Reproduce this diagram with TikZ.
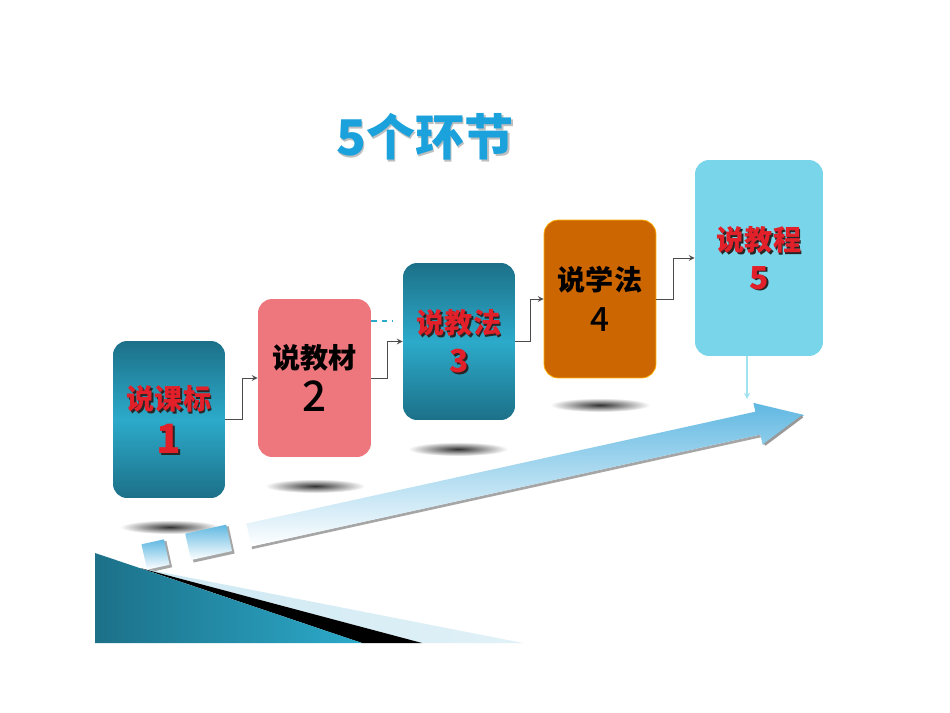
\documentclass[tikz,border=0pt]{standalone}
\usepackage{fontspec}
\newfontfamily\cjk{Noto Sans CJK SC}
\newfontfamily\cjkmid{Noto Sans CJK SC Medium}
\usepackage{tikz}
\usetikzlibrary{shapes,arrows}
\definecolor{tealDark}{RGB}{28,112,136}
\definecolor{tealLight}{RGB}{44,170,202}
\definecolor{pinkBox}{RGB}{238,119,126}
\definecolor{orangeBox}{RGB}{204,102,0}
\definecolor{skyBox}{RGB}{121,214,234}
\definecolor{titleBlue}{RGB}{27,161,219}
\definecolor{labelRed}{RGB}{226,32,42}
\definecolor{bandBlue}{RGB}{96,184,226}
\definecolor{paleBlue}{RGB}{205,232,242}
\tikzstyle{block} = [rectangle, rounded corners=8pt, inner sep=0pt, align=center, font=\cjk\bfseries\fontsize{16}{21}\selectfont]
\tikzstyle{tealBlock} = [block, top color=tealDark, bottom color=tealDark, middle color=tealLight]
\tikzstyle{redLabel} = [align=center, inner sep=0pt, text=labelRed, font=\cjk\bfseries\fontsize{16}{21}\selectfont]
\tikzstyle{labelShadow} = [redLabel, text=black!85, xshift=1pt, yshift=-1pt]
\tikzstyle{arrowLine} = [draw, -stealth, line width=0.5pt, black!70]
\tikzstyle{faintLine} = [draw, -stealth, line width=0.6pt, skyBox!70]
\tikzstyle{floorShadow} = [inner color=black!80, outer color=white]
\tikzstyle{bandShade} = [top color=bandBlue, bottom color=white]

\begin{document}
\begin{tikzpicture}[x=0.02cm, y=-0.02cm]
		\useasboundingbox[fill=white] (0,0) rectangle (950,713);
		%title
		\node[text=black!25, font=\cjk\bfseries\fontsize{28}{30}\selectfont](titleShade) at (426.5,139) {5个环节};
		\node[text=titleBlue, font=\cjk\bfseries\fontsize{28}{30}\selectfont](title) at (425,137) {5个环节};
		%floor shadows
		\shade[floorShadow] (170,527) ellipse (50 and 7);
		\shade[floorShadow] (315,486) ellipse (50 and 7);
		\shade[floorShadow] (458,449) ellipse (50 and 7);
		\shade[floorShadow] (600,405) ellipse (50 and 7);
		%boxes
		\node[tealBlock, minimum width=2.24cm, minimum height=3.14cm](kebiao) at (169,419.5) {};
		\node[block, fill=pinkBox, minimum width=2.26cm, minimum height=3.16cm](jiaocai) at (314.5,378) {说教材\\[4pt]{\cjkmid\mdseries\fontsize{24}{24}\selectfont 2}};
		\node[tealBlock, minimum width=2.24cm, minimum height=3.14cm](jiaofa) at (459,341.5) {};
		\node[block, fill=orangeBox, draw=orange!60!yellow, minimum width=2.24cm, minimum height=3.16cm](xuefa) at (600,299) {说学法\\[2pt]{\cjkmid\mdseries\fontsize{19}{19}\selectfont 4}};
		\node[block, fill=skyBox, minimum width=2.56cm, minimum height=3.92cm](jiaocheng) at (759,258) {};
		%red labels
		\node[labelShadow](kebiaoShade) at (kebiao) {说课标\\[4pt]{\fontsize{23}{23}\selectfont 1}};
		\node[redLabel](kebiaoText) at (kebiao) {说课标\\[4pt]{\fontsize{23}{23}\selectfont 1}};
		\node[labelShadow](jiaofaShade) at (jiaofa) {说教法\\[1pt]{\fontsize{18}{18}\selectfont 3}};
		\node[redLabel](jiaofaText) at (jiaofa) {说教法\\[1pt]{\fontsize{18}{18}\selectfont 3}};
		\node[labelShadow](jiaochengShade) at (jiaocheng) {说教程\\[1pt]{\fontsize{18}{18}\selectfont 5}};
		\node[redLabel](jiaochengText) at (jiaocheng) {说教程\\[1pt]{\fontsize{18}{18}\selectfont 5}};
		%arrows
		\path[arrowLine](kebiao.east)--++(17,0)|-(jiaocai.west);
		\path[arrowLine](jiaocai.east)--++(16,0)|-(jiaofa.west);
		\path[arrowLine](jiaofa.east)--++(15,0)|-(xuefa.west);
		\path[arrowLine](xuefa.east)--++(17,0)|-(jiaocheng.west);
		\coordinate(dashEnd) at (393,321);
		\draw[dashed, tealLight, line width=1pt](jiaocai.east |- dashEnd)--(dashEnd);
		\coordinate(bandTouch) at (747,399);
		\path[faintLine](jiaocheng.south -| bandTouch)--(bandTouch);
		%big arrow
		\begin{scope}[shift={(249,535)}, rotate=12.4]
			\fill[black!35] (-105,-12) rectangle (-82,15);
			\fill[black!35] (-60,-13) rectangle (-18,15);
			\fill[black!35] (0,11.7) -- (521,11.7) -- (521,14.5) -- (0,14.5) -- cycle;
			\shade[bandShade] (-107,-14) rectangle (-84,12);
			\shade[bandShade] (-62,-15) rectangle (-20,12);
			\shade[bandShade] (0,-11.7) -- (521,-11.7) -- (521,-20.7) -- (568,2) -- (521,22.5) -- (521,11.7) -- (0,11.7) -- cycle;
			\draw[black!40, line width=1.5pt] (523,22.5) -- (566,3);
		\end{scope}
		%corner wedge
		\shade[left color=paleBlue, right color=paleBlue!60!white] (140,568) -- (523,643) -- (422,643) -- cycle;
		\fill[black] (140,568) -- (422,643) -- (362,643) -- cycle;
		\shade[left color=tealDark, right color=tealLight] (95,553) -- (362,643) -- (95,643) -- cycle;
	\end{tikzpicture}
\end{document}
